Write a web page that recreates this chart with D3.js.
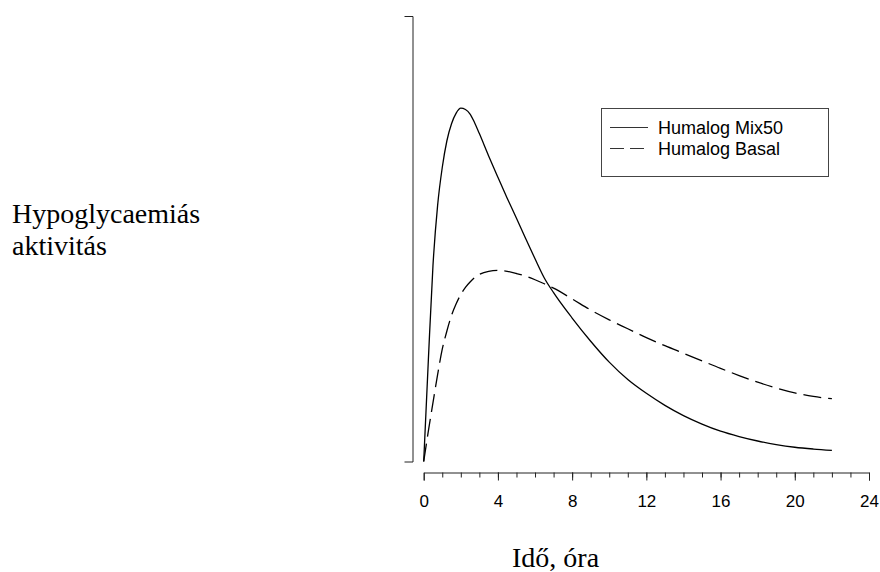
<!DOCTYPE html>
<html>
<head>
<meta charset="utf-8">
<script src="https://cdn.jsdelivr.net/npm/d3@7"></script>
<style>
  body { margin: 0; background: #fff; }
  svg { display: block; }
</style>
</head>
<body>
<svg width="880" height="572"></svg>
<script>
// hours after injection
var hours = [0, 0.25, 0.5, 0.75, 1, 1.25, 1.5, 1.75, 2, 2.25, 2.5, 2.75, 3, 3.5, 4, 4.5, 5, 5.5, 6, 6.5, 7,
             8, 9, 10, 11, 12, 13, 14, 15, 16, 17, 18, 19, 20, 21, 22];
// relative hypoglycaemic activity (0-100)
var mix50 = [0, 22.7, 44, 57.5, 66, 72, 75.8, 78.2, 79.3, 79.0, 78.0, 76.0, 73.6, 68.6, 63.8, 59.1, 54.6, 50.0, 45.5, 41.2, 37.9,
             32.2, 27.0, 22.3, 18.4, 15.3, 12.6, 10.3, 8.4, 6.8, 5.6, 4.6, 3.8, 3.2, 2.8, 2.5];
var basal = [0, 6.8, 13.2, 19.5, 25.2, 29.3, 32.8, 35.4, 37.5, 39.1, 40.3, 41.3, 42.0, 42.7, 42.9, 42.7, 42.2, 41.6, 40.8, 39.9, 38.9,
             36.5, 34.0, 31.8, 29.8, 27.8, 26.0, 24.3, 22.6, 20.9, 19.3, 17.8, 16.5, 15.4, 14.6, 14.1];
var seriesNames = ["Humalog Mix50", "Humalog Basal"];
var xTicks = [0, 4, 8, 12, 16, 20, 24];
var yLabel = ["Hypoglycaemiás", "aktivitás"];
var xLabel = "Idő, óra";

var svg = d3.select("svg");

var x = d3.scaleLinear().domain([0, 24]).range([423.7, 869]);
var y = d3.scaleLinear().domain([0, 100]).range([461.5, 16]);

// y axis: bare bracket
svg.append("g")
  .attr("transform", "translate(412.5,0)")
  .call(d3.axisLeft(y).tickValues([]).tickSizeOuter(8))
  .call(function(g){ g.select(".domain").attr("stroke", "#222"); });

// x axis, minor ticks every hour in their own group
svg.append("g")
  .attr("transform", "translate(0,472.5)")
  .call(d3.axisBottom(x).tickValues(d3.range(1, 24, 1)).tickSize(5).tickSizeOuter(0).tickFormat(""))
  .call(function(g){ g.select(".domain").remove(); g.selectAll("line").attr("stroke", "#222"); });

svg.append("g")
  .attr("transform", "translate(0,472.5)")
  .call(d3.axisBottom(x).tickValues(xTicks).tickSize(8).tickSizeOuter(8).tickPadding(14))
  .call(function(g){
    g.selectAll("line, path").attr("stroke", "#222");
    g.selectAll("text").attr("font-family", "'Liberation Sans', Arial, sans-serif").attr("font-size", 17).attr("fill", "#000");
  });

var line = d3.line()
  .x(function(d){ return x(d[0]); })
  .y(function(d){ return y(d[1]); })
  .curve(d3.curveMonotoneX);

svg.append("path")
  .datum(d3.zip(hours, mix50))
  .attr("d", line)
  .attr("fill", "none")
  .attr("stroke", "#000")
  .attr("stroke-width", 1.3);

svg.append("path")
  .datum(d3.zip(hours, basal))
  .attr("d", line)
  .attr("fill", "none")
  .attr("stroke", "#000")
  .attr("stroke-width", 1.3)
  .attr("stroke-dasharray", "18,7");

// legend
var legend = svg.append("g");
legend.append("rect")
  .attr("x", 601.5).attr("y", 108.5)
  .attr("width", 227).attr("height", 68)
  .attr("fill", "#fff").attr("stroke", "#444");
seriesNames.forEach(function(name, i){
  var ly = 127.5 + i * 21;
  legend.append("line")
    .attr("x1", 610).attr("x2", 648).attr("y1", ly).attr("y2", ly)
    .attr("stroke", "#333").attr("stroke-width", 1.2)
    .attr("stroke-dasharray", i == 1 ? "14,6" : null);
  legend.append("text")
    .attr("x", 658).attr("y", ly + 2)
    .attr("dominant-baseline", "middle")
    .attr("font-family", "'Liberation Sans', Arial, sans-serif")
    .attr("font-size", 18)
    .text(name);
});

// axis titles
svg.selectAll("text.ylab")
  .data(yLabel)
  .enter().append("text")
  .attr("class", "ylab")
  .attr("x", 12)
  .attr("y", function(d, i){ return 223 + i * 32; })
  .attr("font-family", "'Liberation Serif', 'Times New Roman', serif")
  .attr("font-size", 28)
  .text(function(d){ return d; });

svg.append("text")
  .attr("x", 512).attr("y", 567)
  .attr("font-family", "'Liberation Serif', 'Times New Roman', serif")
  .attr("font-size", 28)
  .text(xLabel);
</script>
</body>
</html>
